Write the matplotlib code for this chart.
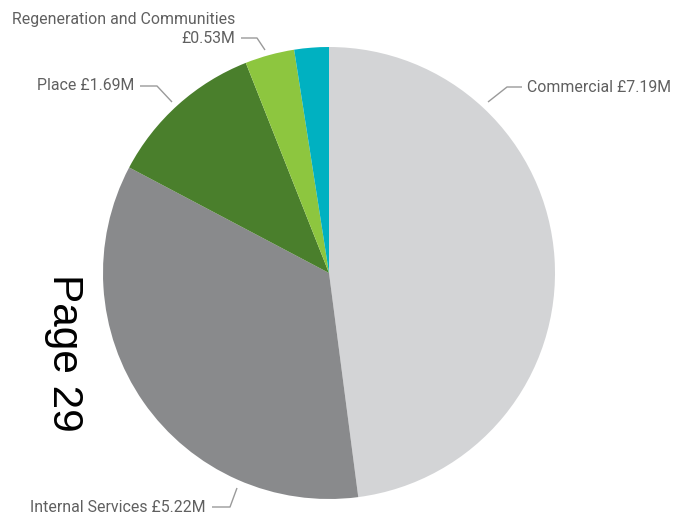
import matplotlib
matplotlib.use("Agg")
import matplotlib.pyplot as plt
import numpy as np

# Spend by directorate (£M), clockwise from 12 o'clock
categories = ["Commercial", "Internal Services", "Place",
              "Regeneration and Communities", "Other"]
values = [7.19, 5.22, 1.69, 0.53, 0.37]
labels = ["Commercial £7.19M", "Internal Services £5.22M", "Place £1.69M",
          "Regeneration and Communities\n£0.53M", ""]
colors = ["#D3D4D6", "#898A8C", "#4A7F2C", "#8DC63F", "#00B1C1"]

W, H = 673, 515
fig = plt.figure(figsize=(W / 100, H / 100), dpi=100)
fig.patch.set_facecolor("white")

cx, cy, r = 329, 273, 226
ax = fig.add_axes([(cx - r) / W, (H - cy - r) / H, 2 * r / W, 2 * r / H])
wedges, _ = ax.pie(values, colors=colors, startangle=90, counterclock=False,
                   radius=1.0, wedgeprops=dict(linewidth=0))
ax.set_xlim(-1, 1)
ax.set_ylim(-1, 1)
ax.set_aspect("auto")
ax.axis("off")

# Overlay axes in pixel coordinates for labels and leader lines
ov = fig.add_axes([0, 0, 1, 1], facecolor="none")
ov.set_xlim(0, W)
ov.set_ylim(H, 0)
ov.axis("off")

line_kw = dict(color="#9A9A9A", lw=1.0, solid_capstyle="butt")
text_kw = dict(color="#606060", fontsize=11.4, family=["Roboto", "DejaVu Sans"])

# leader lines: (slice point) -> elbow -> end near text
leaders = {
    0: [(488, 102), (507, 87), (522, 87)],
    1: [(237, 488), (230, 507), (212, 507)],
    2: [(172, 102), (157, 86), (140, 86)],
    3: [(265, 50), (257, 38), (241, 38)],
}
for i, pts in leaders.items():
    xs, ys = zip(*pts)
    ov.plot(xs, ys, **line_kw)

ov.text(527, 87, labels[0], ha="left", va="center", **text_kw)
ov.text(206, 507, labels[1], ha="right", va="center", **text_kw)
ov.text(134, 86, labels[2], ha="right", va="center", **text_kw)
ov.text(235, 29, labels[3], ha="right", va="center", linespacing=1.3,
        multialignment="right", **text_kw)

# Page number printed sideways
fig.text(64 / W, 1 - 353 / H, "Page 29", rotation=-90, ha="center", va="center",
         fontsize=30.5, color="black", family=["Liberation Sans", "DejaVu Sans"])

fig.savefig("out.png", dpi=100, facecolor="white")
